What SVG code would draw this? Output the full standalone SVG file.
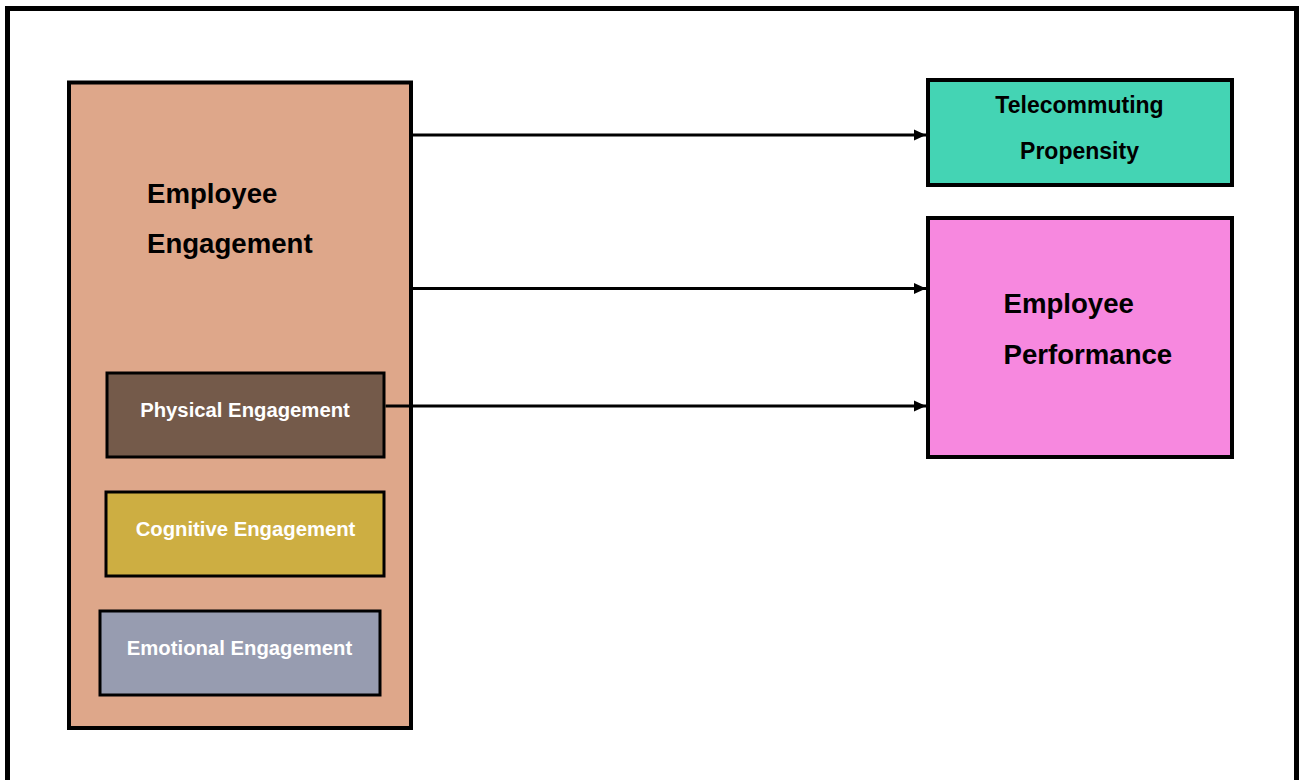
<svg xmlns="http://www.w3.org/2000/svg" width="1299" height="780" viewBox="0 0 1299 780">
<style>
.box{stroke:#000;stroke-width:4}
.sub{stroke:#000;stroke-width:3}
.t{font-family:"Liberation Sans",Arial,sans-serif;font-weight:bold}
.big{font-size:27.6px;fill:#000}
.mid{font-size:23px;fill:#000;text-anchor:middle}
.sm{font-size:20.3px;fill:#fff;text-anchor:middle}
.con{stroke:#000;stroke-width:3;fill:none}
</style>
<defs>
<marker id="ah" markerWidth="12" markerHeight="12" refX="12" refY="6" orient="auto" markerUnits="userSpaceOnUse">
<path d="M0,0.5 L12,6 L0,11.5 Z" fill="#000"/>
</marker>
</defs>
<rect x="0" y="0" width="1299" height="780" fill="#fff"/>
<rect x="7.5" y="8.5" width="1289" height="800" fill="none" stroke="#000" stroke-width="5"/>
<g id="employee-engagement">
<rect class="box" x="69" y="82.5" width="342" height="645.5" fill="#DEA78A"/>
<text class="t big" x="147" y="202.5">Employee</text>
<text class="t big" x="147" y="252.5">Engagement</text>
</g>
<g id="physical-engagement">
<rect class="sub" x="107" y="373" width="277" height="84" fill="#745A4A"/>
<text class="t sm" x="245" y="416.5">Physical Engagement</text>
</g>
<g id="cognitive-engagement">
<rect class="sub" x="106" y="492" width="278" height="84" fill="#CDAE42"/>
<text class="t sm" x="245.5" y="535.5">Cognitive Engagement</text>
</g>
<g id="emotional-engagement">
<rect class="sub" x="100" y="611" width="280" height="84" fill="#979CB0"/>
<text class="t sm" x="239.5" y="654.5">Emotional Engagement</text>
</g>
<g id="telecommuting-propensity">
<rect class="box" x="928" y="80" width="304" height="105" fill="#44D4B4"/>
<text class="t mid" x="1079.5" y="112.5">Telecommuting</text>
<text class="t mid" x="1079.5" y="158.5">Propensity</text>
</g>
<g id="employee-performance">
<rect class="box" x="928" y="218" width="304" height="239" fill="#F788DF"/>
<text class="t big" x="1003.5" y="312.5">Employee</text>
<text class="t big" x="1003.5" y="363.5">Performance</text>
</g>
<g id="connectors">
<line class="con" x1="413" y1="135" x2="926" y2="135" marker-end="url(#ah)"/>
<line class="con" x1="413" y1="288.5" x2="926" y2="288.5" marker-end="url(#ah)"/>
<line class="con" x1="385.5" y1="406" x2="926" y2="406" marker-end="url(#ah)"/>
</g>
</svg>
